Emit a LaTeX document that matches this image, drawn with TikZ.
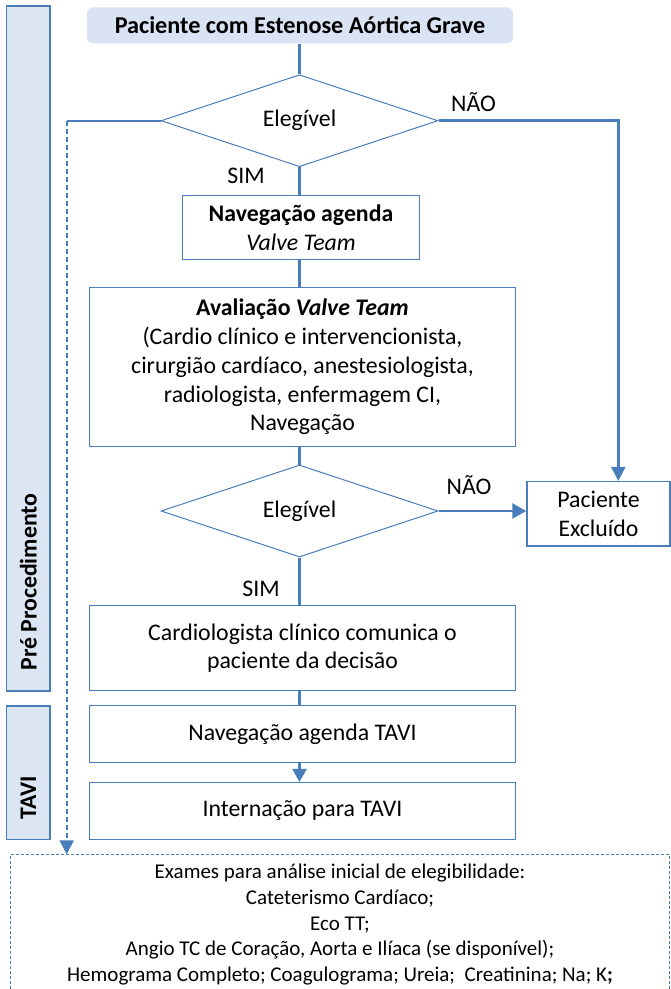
\documentclass[tikz,border=0pt]{standalone}
\usepackage{fontspec}
\setmainfont{Carlito}
\usetikzlibrary{shapes.geometric,arrows.meta}
\definecolor{lineblue}{HTML}{4A7EBB}
\definecolor{fillblue}{HTML}{DCE6F2}
\definecolor{titlefill}{HTML}{DAE3F3}
\begin{document}
\begin{tikzpicture}[x=1pt,y=-1pt,
  every node/.style={font=\fontsize{23.8}{28.7}\selectfont, text=black},
  box/.style={draw=lineblue, line width=1.5pt, rectangle, inner sep=0pt, align=center},
  decision/.style={draw=lineblue, line width=1pt, diamond, aspect=3, inner sep=0pt, minimum width=277pt, minimum height=92pt},
  titlebox/.style={fill=titlefill, rounded corners=6pt, inner sep=0pt, minimum width=426pt, minimum height=36pt, font=\fontsize{24.2}{28.7}\selectfont},
  conn/.style={draw=lineblue, line width=2.2pt},
  arr/.style={conn, -{Triangle[width=14pt,length=13pt]}},
  dasharr/.style={draw=lineblue, line width=2pt, dash pattern=on 5pt off 3pt, -{Triangle[width=14pt,length=14pt]}},
  sidebar/.style={draw=lineblue, line width=1.5pt, fill=fillblue, inner sep=0pt, minimum width=43.3pt},
  sidelabel/.style={rotate=90, inner sep=0pt, font=\fontsize{23.8}{28.7}\selectfont\bfseries},
  lbl/.style={inner sep=0pt},
]
\useasboundingbox (0,0) rectangle (671,989);
\clip (0,0) rectangle (671,989);

% side bars
\node[sidebar, minimum height=685pt] (side1) at (28.3,348.5) {};
\node[sidelabel] (side1lbl) at (28.3,582) {Pré Procedimento};
\node[sidebar, minimum height=133.3pt] (side2) at (28.3,772.7) {};
\node[sidelabel] (side2lbl) at (28.3,797.5) {TAVI};

% main nodes
\node[titlebox] (title) at (300,25.3) {\textbf{Paciente com Estenose Aórtica Grave}};
\node[decision] (d1) at (299.5,120.7) {Elegível};
\node[box, minimum width=236.6pt, minimum height=63.6pt] (nav1) at (301,227.5) {\textbf{Navegação agenda}\\\textit{Valve Team}};
\node[box, minimum width=426.4pt, minimum height=159.4pt] (aval) at (302.5,367) {\textbf{Avaliação \textit{Valve Team}}\\(Cardio clínico e intervencionista,\\cirurgião cardíaco, anestesiologista,\\radiologista, enfermagem CI,\\Navegação};
\node[decision] (d2) at (299.5,511) {Elegível};
\node[box, minimum width=143pt, minimum height=64.3pt] (excl) at (598.5,513.8) {Paciente\\Excluído};
\node[box, minimum width=426.4pt, minimum height=85pt] (card) at (302.5,648.2) {Cardiologista clínico comunica o\\paciente da decisão};
\node[box, minimum width=426.4pt, minimum height=56.6pt] (navT) at (302.5,734) {Navegação agenda TAVI};
\node[box, minimum width=426.4pt, minimum height=56.6pt] (intern) at (302.5,811) {Internação para TAVI};

% exames box
\node[draw=lineblue, line width=1pt, dash pattern=on 3pt off 2pt, inner sep=0pt, minimum width=659.3pt, minimum height=170pt, anchor=north] (exames) at (340.3,854.3) {};
\node[inner sep=0pt, align=center, font=\fontsize{21}{25.7}\selectfont] (exmtext) at (340,924.6) {Exames para análise inicial de elegibilidade:\\Cateterismo Cardíaco;\\Eco TT;\\Angio TC de Coração, Aorta e Ilíaca (se disponível);\\Hemograma Completo; Coagulograma; Ureia;\ \ Creatinina; Na; K\textbf{;}};

% labels
\node[lbl] (no1) at (473.5,101.8) {NÃO};
\node[lbl] (sim1) at (246,175.5) {SIM};
\node[lbl] (no2) at (469,485.5) {NÃO};
\node[lbl] (sim2) at (261,588.5) {SIM};

% connectors
\coordinate (lcorner) at (66.7,120.7);
\coordinate (rcorner) at (618.3,120.7);
\draw[conn] (d1.north |- title.south) -- (d1.north);
\draw[conn] (d1.west) -- (lcorner);
\draw[dasharr] (lcorner) -- (lcorner |- exames.north);
\draw[conn, line width=2.5pt, -{Triangle[width=14pt,length=14pt]}] (d1.east) -- (rcorner) -- (rcorner |- excl.north);
\draw[conn] (d1.south) -- (d1.south |- nav1.north);
\draw[conn] (d1.south |- nav1.south) -- (d1.south |- aval.north);
\draw[conn] (d2.north |- aval.south) -- (d2.north);
\draw[conn, line width=2.8pt, -{Triangle[width=15pt,length=14pt]}] (d2.east) -- (d2.east -| excl.west);
\draw[conn] (d2.south) -- (d2.south |- card.north);
\draw[conn] (d2.south |- card.south) -- (d2.south |- navT.north);
\draw[arr] (d2.south |- navT.south) -- (d2.south |- intern.north);
\end{tikzpicture}
\end{document}
